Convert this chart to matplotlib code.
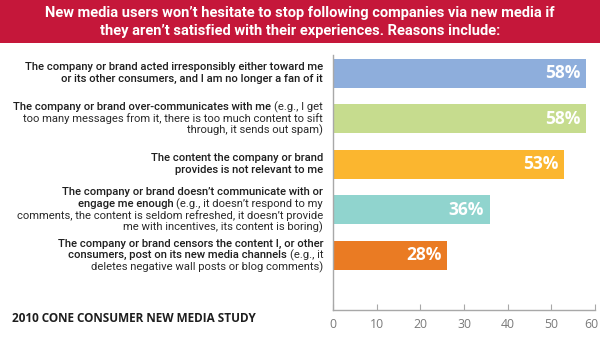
import matplotlib
matplotlib.use("Agg")
import matplotlib.pyplot as plt
import matplotlib.transforms as mtransforms
from matplotlib.patches import Rectangle

# data
bar_lengths = [58, 58, 53, 36, 26.2]
value_labels = ["58%", "58%", "53%", "36%", "28%"]
bar_colors = ["#8eaedc", "#c6dc8e", "#fbb62f", "#90d4ce", "#ea7b23"]
x_ticks = [0, 10, 20, 30, 40, 50, 60]

title_lines = ["New media users won\u2019t hesitate to stop following companies via new media if",
               "they aren\u2019t satisfied with their experiences. Reasons include:"]
footer = "2010 CONE CONSUMER NEW MEDIA STUDY"

# each category: list of lines, each line a list of (text, bold?)
category_lines = [
    [[("The company or brand acted irresponsibly either toward me", True)],
     [("or its other consumers, and I am no longer a fan of it", True)]],
    [[("The company or brand over-communicates with me", True), ("(e.g., I get", False)],
     [("too many messages from it, there is too much content to sift", False)],
     [("through, it sends out spam)", False)]],
    [[("The content the company or brand", True)],
     [("provides is not relevant to me", True)]],
    [[("The company or brand doesn\u2019t communicate with or", True)],
     [("engage me enough", True), ("(e.g., it doesn\u2019t respond to my", False)],
     [("comments, the content is seldom refreshed, it doesn\u2019t provide", False)],
     [("me with incentives, its content is boring)", False)]],
    [[("The company or brand censors the content I, or other", True)],
     [("consumers, post on its new media channels", True), ("(e.g., it", False)],
     [("deletes negative wall posts or blog comments)", False)]],
]

W, H = 600, 340
fig = plt.figure(figsize=(6, 3.4), dpi=100)
fig.patch.set_facecolor("white")

# red banner
fig.patches.append(Rectangle((0, 1 - 43 / H), 1, 43 / H, transform=fig.transFigure,
                             facecolor="#c5173a", edgecolor="none", zorder=0))
title_font = ["Roboto", "DejaVu Sans"]
fig.text(0.5, 1 - 13 / H, title_lines[0], ha="center", va="center", color="white",
         fontsize=10.5, fontweight="bold", family=title_font)
fig.text(0.5, 1 - 31 / H, title_lines[1], ha="center", va="center", color="white",
         fontsize=10.5, fontweight="bold", family=title_font)

ax = fig.add_axes([333 / W, 1 - 310 / H, (595 - 333) / W, (310 - 55) / H])
ypos = list(range(len(bar_lengths)))
ax.barh(ypos, bar_lengths, height=0.63, color=bar_colors, zorder=2)
for y, v, lab in zip(ypos, bar_lengths, value_labels):
    ax.text(v - 1.4, y, lab, ha="right", va="center", color="white",
            fontsize=12.5, fontweight="bold", family=["Open Sans", "DejaVu Sans"])

ax.set_xlim(0, 60)
ax.set_ylim(5.2, -0.4)
ax.set_yticks([])
ax.set_xticks(x_ticks)
ax.tick_params(axis="x", direction="in", length=4, color="#a8a8a8", labelcolor="#7a7a7a",
               labelsize=8.8, pad=6)
for lab in ax.get_xticklabels():
    lab.set_family(["Open Sans", "DejaVu Sans"])
# last tick label sits a bit left so it stays inside the picture
last = ax.get_xticklabels()[-1]
last.set_transform(last.get_transform() + mtransforms.ScaledTranslation(-4 / 100, 0, fig.dpi_scale_trans))
for s in ["top", "right"]:
    ax.spines[s].set_visible(False)
for s in ["left", "bottom"]:
    ax.spines[s].set_color("#a8a8a8")
    ax.spines[s].set_linewidth(1)

# category labels, right aligned, mixed weights
fig.canvas.draw()
renderer = fig.canvas.get_renderer()
label_font = ["Roboto", "DejaVu Sans"]
line_h = 11.8
right_px = 323
for y, lines in zip(ypos, category_lines):
    center_px = H - ax.transData.transform((0, y))[1]
    n = len(lines)
    for i, segs in enumerate(lines):
        ypx = center_px + (i - (n - 1) / 2) * line_h
        x = right_px
        for text, bold in reversed(segs):
            t = fig.text(x / W, 1 - ypx / H, text, ha="right", va="center",
                         color="#1e1e1e" if bold else "#2a2a2a",
                         fontsize=8.1, fontweight="medium" if bold else "normal",
                         family=label_font)
            w = t.get_window_extent(renderer).width
            x -= w + 3

fig.text(12 / W, 1 - 318 / H, footer, ha="left", va="center", color="#1e1e1e",
         fontsize=8.5, fontweight="bold", family=["Open Sans", "DejaVu Sans"])

fig.savefig("out.png", dpi=100)
